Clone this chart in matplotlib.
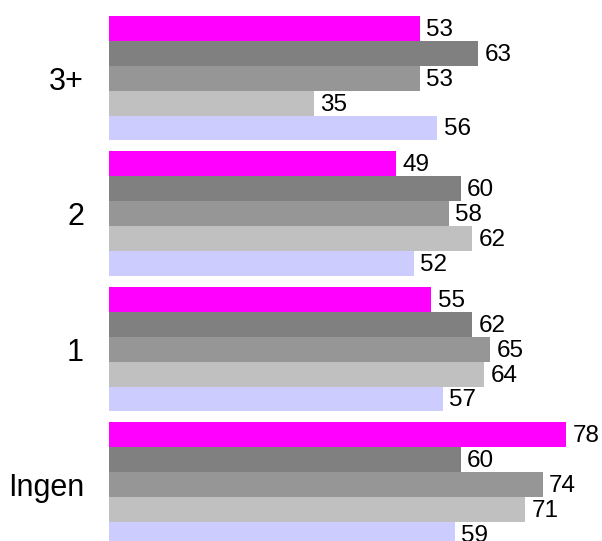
import matplotlib.pyplot as plt

categories = ["Ingen", "1", "2", "3+"]
# one list per series, values in the order of categories
series_a = [78, 55, 49, 53]
series_b = [60, 62, 60, 63]
series_c = [74, 65, 58, 53]
series_d = [71, 64, 62, 35]
series_e = [59, 57, 52, 56]
colors = ["#FF00FF", "#808080", "#969696", "#C0C0C0", "#CCCCFF"]

plt.rcParams['font.family'] = ['Liberation Sans', 'DejaVu Sans']

fig = plt.figure(figsize=(6.02, 5.41), dpi=100)
ax = fig.add_axes([109 / 602, 0, 493 / 602, 1])

group_step = 5.44
all_series = [series_a, series_b, series_c, series_d, series_e]
for j, (vals, col) in enumerate(zip(all_series, colors)):
    ys = [g * group_step + (4 - j) for g in range(len(categories))]
    bars = ax.barh(ys, vals, height=1.0, color=col, linewidth=0)
    for y, v in zip(ys, vals):
        ax.annotate(str(v), (v, y), xytext=(4.5, -1), textcoords="offset points",
                    ha="left", va="center", fontsize=17.5)

ax.set_yticks([g * group_step + 2 for g in range(len(categories))])
ax.set_yticklabels(categories, fontsize=22)
ax.tick_params(axis="y", length=0, pad=18)
ax.set_xticks([])
ax.set_xlim(0, 84.1)
ax.set_ylim(-0.26, 21.46)
for s in ax.spines.values():
    s.set_visible(False)

plt.savefig("out.png", dpi=100)
